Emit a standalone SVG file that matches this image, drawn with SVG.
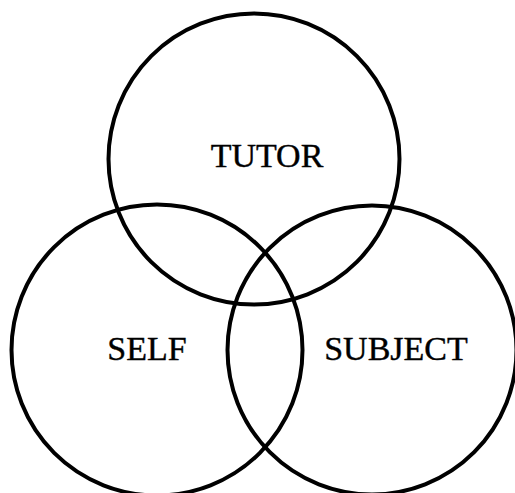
<svg xmlns="http://www.w3.org/2000/svg" width="515" height="493" viewBox="0 0 515 493">
<style>
.c{fill:none;stroke:#000;stroke-width:4}
.t{font-family:"Liberation Serif","Times New Roman",serif;font-size:34px;fill:#000;text-anchor:middle;stroke:#000;stroke-width:0.4}
</style>
<rect width="515" height="493" fill="#fff"/>
<g id="tutor"><circle class="c" cx="254" cy="159" r="145.5"/><text class="t" x="267" y="167">TUTOR</text></g>
<g id="self"><circle class="c" cx="157" cy="350" r="145.5"/><text class="t" x="147" y="360">SELF</text></g>
<g id="subject"><circle class="c" cx="372" cy="350" r="144.5"/><text class="t" x="396" y="360">SUBJECT</text></g>
<g id="connectors"></g>
</svg>
